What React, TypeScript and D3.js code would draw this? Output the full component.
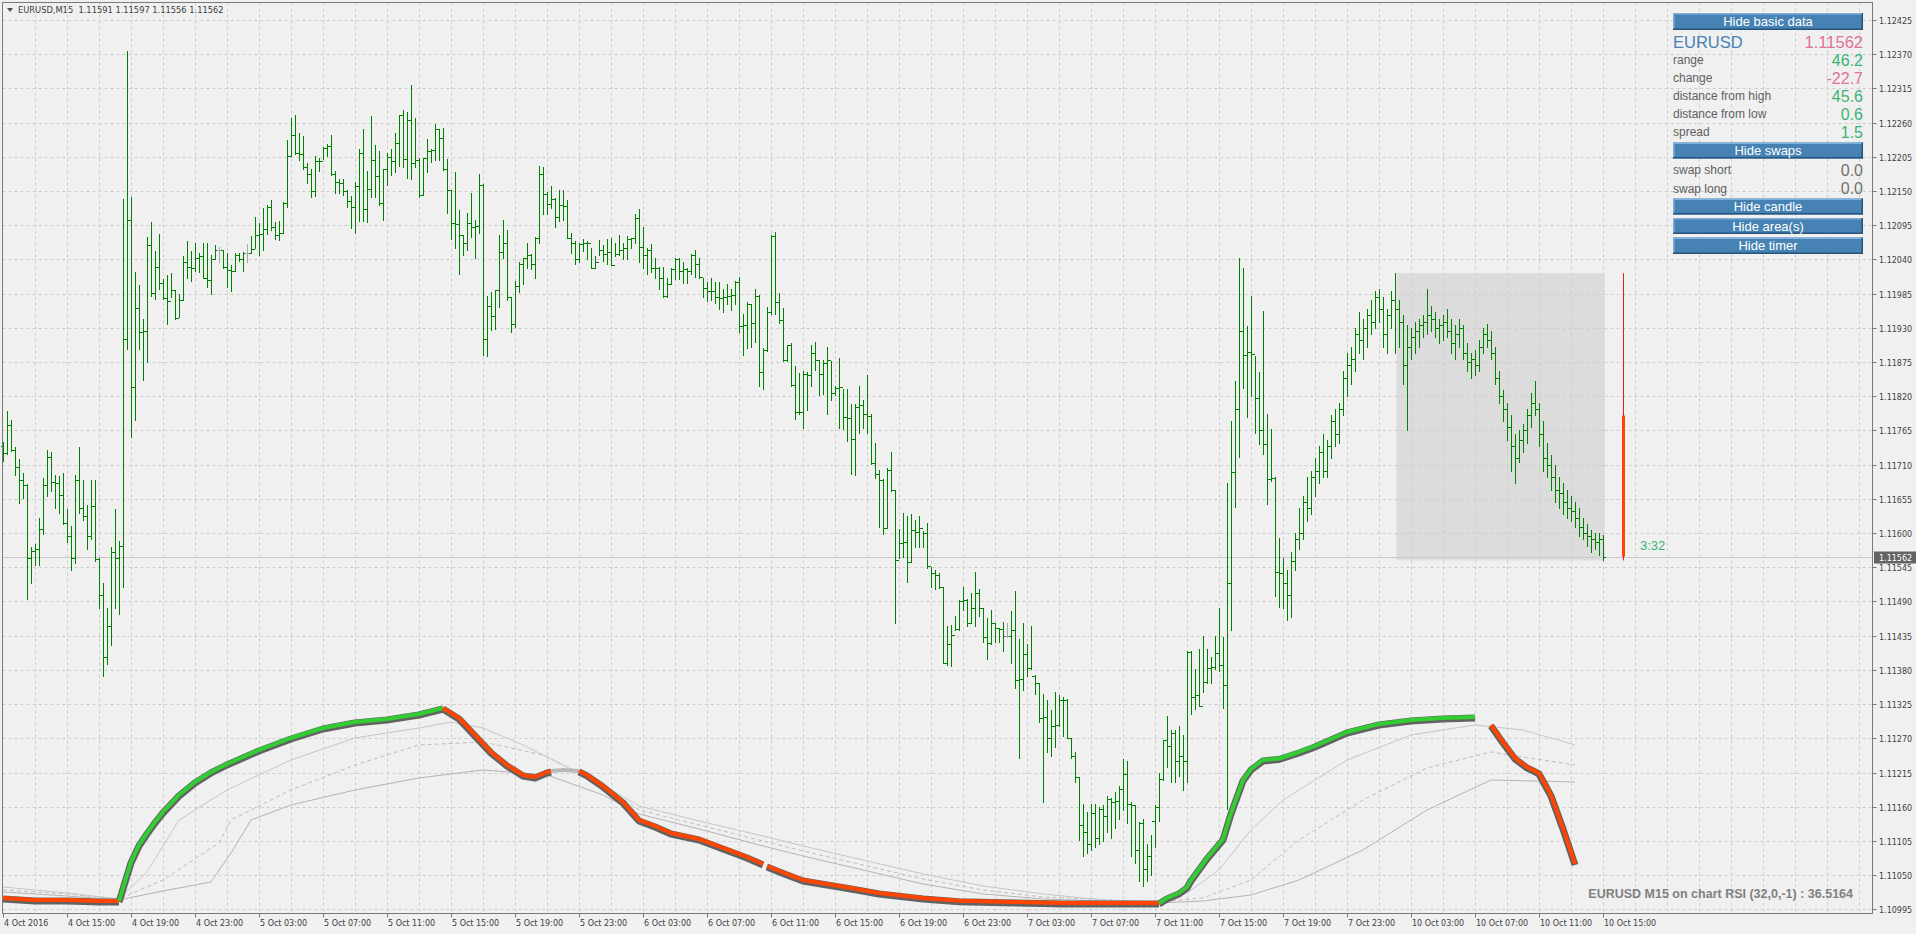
import React from "react";
import * as d3 from "d3";

const W = 1916, H = 934;
const PL = 2.5, PR = 1872.5, PT = 2.5, PB = 913.5;

const symbolTitle = "EURUSD,M15  1.11591 1.11597 1.11556 1.11562";

const priceTicks = [1.10995, 1.1105, 1.11105, 1.1116, 1.11215, 1.1127, 1.11325, 1.1138, 1.11435, 1.1149, 1.11545, 1.116, 1.11655, 1.1171, 1.11765, 1.1182, 1.11875, 1.1193, 1.11985, 1.1204, 1.12095, 1.1215, 1.12205, 1.1226, 1.12315, 1.1237, 1.12425];

const timeLabels = ["4 Oct 2016", "4 Oct 15:00", "4 Oct 19:00", "4 Oct 23:00", "5 Oct 03:00", "5 Oct 07:00", "5 Oct 11:00", "5 Oct 15:00", "5 Oct 19:00", "5 Oct 23:00", "6 Oct 03:00", "6 Oct 07:00", "6 Oct 11:00", "6 Oct 15:00", "6 Oct 19:00", "6 Oct 23:00", "7 Oct 03:00", "7 Oct 07:00", "7 Oct 11:00", "7 Oct 15:00", "7 Oct 19:00", "7 Oct 23:00", "10 Oct 03:00", "10 Oct 07:00", "10 Oct 11:00", "10 Oct 15:00"];
const timeTickIdx = [0, 16, 32, 48, 64, 80, 96, 112, 128, 144, 160, 176, 192, 208, 224, 240, 256, 272, 288, 304, 320, 336, 352, 368, 384, 400];

// M15 bars, index 0 = 4 Oct 11:00
const highs = [
1.11746,1.11796,1.11782,1.11738,1.11719,1.11696,1.11679,1.11578,1.11582,1.11625,
1.11688,1.11733,1.11731,1.11693,1.11692,1.11697,1.11639,1.11611,1.11694,1.11739,
1.11685,1.11645,1.11685,1.11685,1.1156,1.1152,1.1148,1.11577,1.11639,1.11588,
1.12138,1.12376,1.12141,1.1202,1.11999,1.11944,1.12076,1.12101,1.12053,1.12081,
1.12008,1.12015,1.12019,1.11991,1.11984,1.12046,1.1207,1.12053,1.12067,1.12051,
1.12066,1.12067,1.12048,1.12063,1.1206,1.12056,1.12051,1.12031,1.1205,1.12051,
1.12052,1.12065,1.12078,1.12109,1.12098,1.12123,1.12128,1.12135,1.12101,1.12102,
1.12132,1.12232,1.12268,1.12273,1.12244,1.12239,1.12195,1.12185,1.12206,1.12204,
1.12221,1.12225,1.12241,1.12182,1.12169,1.1217,1.12152,1.12142,1.12165,1.12217,
1.1225,1.12182,1.1227,1.12224,1.12215,1.12186,1.12211,1.12218,1.12243,1.12273,
1.1228,1.12278,1.1232,1.12268,1.12204,1.12204,1.12233,1.12218,1.12258,1.1225,
1.12252,1.12202,1.12152,1.1218,1.1212,1.1208,1.12114,1.12147,1.12104,1.12178,
1.12161,1.11981,1.11987,1.11991,1.1208,1.12103,1.12087,1.1198,1.12006,1.12036,
1.12043,1.12067,1.12049,1.12076,1.12191,1.12188,1.12149,1.12159,1.12139,1.12152,
1.12152,1.12135,1.12082,1.1207,1.12066,1.12073,1.12069,1.12058,1.12045,1.12071,
1.12063,1.12073,1.12075,1.12066,1.1208,1.12066,1.12077,1.12075,1.12113,1.12121,
1.12093,1.12058,1.12065,1.12043,1.12028,1.12028,1.12011,1.12026,1.12043,1.12043,
1.12036,1.12026,1.12049,1.12055,1.12043,1.12011,1.12004,1.12011,1.12004,1.12004,
1.11992,1.12001,1.11992,1.12005,1.12012,1.11952,1.11972,1.11969,1.11992,1.11983,
1.11898,1.11964,1.12079,1.12084,1.11986,1.11962,1.11903,1.11905,1.11868,1.11857,
1.11861,1.11859,1.11902,1.11907,1.11878,1.11879,1.119,1.11876,1.11837,1.11881,
1.11831,1.11831,1.11807,1.11807,1.11837,1.11814,1.11854,1.11791,1.11745,1.11702,
1.11687,1.11704,1.1173,1.11669,1.11606,1.11632,1.11627,1.1163,1.11621,1.11627,
1.11603,1.11617,1.11546,1.1154,1.11536,1.11514,1.11451,1.11453,1.11466,1.11492,
1.11514,1.11494,1.11504,1.11538,1.1151,1.11479,1.11464,1.11477,1.11455,1.11447,
1.11457,1.11455,1.11475,1.11507,1.11429,1.11455,1.11422,1.1145,1.11372,1.11359,
1.11342,1.11332,1.11315,1.11344,1.1134,1.11337,1.11333,1.1127,1.11248,1.11208,
1.11165,1.11152,1.11165,1.11165,1.1116,1.11163,1.11178,1.11174,1.11184,1.11193,
1.11236,1.11233,1.11167,1.11163,1.11135,1.1114,1.111,1.11115,1.11163,1.11215,
1.11268,1.11306,1.11283,1.11283,1.1129,1.11275,1.1141,1.1141,1.11381,1.11414,
1.11435,1.11414,1.114,1.11435,1.11479,1.11433,1.1168,1.1178,1.11844,1.12042,
1.12027,1.11933,1.11981,1.11885,1.11859,1.11957,1.11791,1.11767,1.11691,1.11592,
1.1156,1.1154,1.1157,1.116,1.1164,1.1166,1.1169,1.117,1.1172,1.1174,
1.1176,1.1175,1.1179,1.118,1.1181,1.1186,1.1189,1.119,1.1193,1.11955,
1.11945,1.1196,1.11975,1.1199,1.11993,1.1198,1.1196,1.1199,1.12018,1.11975,
1.1195,1.11935,1.1193,1.1194,1.11945,1.1195,1.11993,1.11965,1.11955,1.11945,
1.1195,1.1196,1.11945,1.11935,1.11945,1.11935,1.11905,1.1189,1.11895,1.1191,
1.1193,1.11936,1.11925,1.119,1.1186,1.1183,1.1181,1.1179,1.1176,1.11765,
1.11775,1.118,1.11825,1.11844,1.1181,1.1178,1.11745,1.11725,1.1171,1.1169,
1.1168,1.1167,1.1166,1.1165,1.1164,1.11625,1.11615,1.11605,1.116,1.116,
1.11597];

const lows = [
1.11716,1.11728,1.11732,1.11693,1.11649,1.11657,1.11494,1.1152,1.11549,1.11549,
1.11599,1.11659,1.11667,1.11641,1.11632,1.11615,1.11586,1.1154,1.11552,1.11632,
1.11621,1.11574,1.11591,1.11555,1.1148,1.1137,1.1139,1.1142,1.1148,1.1147,
1.11513,1.11896,1.11754,1.11782,1.11896,1.11847,1.11875,1.11981,1.11976,1.11993,
1.11977,1.11937,1.11979,1.11945,1.11947,1.11975,1.12011,1.12006,1.12022,1.1202,
1.1201,1.11995,1.11985,1.1204,1.12036,1.12027,1.11995,1.11989,1.12022,1.12038,
1.12022,1.12036,1.12051,1.12058,1.12048,1.12056,1.12081,1.12087,1.12073,1.12072,
1.12082,1.12125,1.12206,1.12209,1.122,1.12186,1.12163,1.12141,1.12142,1.12182,
1.12202,1.12206,1.12176,1.12147,1.12147,1.12143,1.12125,1.12091,1.12083,1.12102,
1.12102,1.12101,1.1214,1.1214,1.12127,1.12103,1.1216,1.12176,1.1218,1.12191,
1.12189,1.12171,1.12169,1.12189,1.12141,1.12143,1.1218,1.12196,1.122,1.122,
1.12184,1.12115,1.12073,1.12059,1.12017,1.12048,1.12056,1.12076,1.12043,1.12083,
1.11887,1.11885,1.11926,1.11929,1.11964,1.12043,1.11975,1.11923,1.11932,1.11987,
1.12001,1.12026,1.12025,1.1201,1.12067,1.12113,1.12113,1.12123,1.12093,1.12102,
1.12104,1.12074,1.12051,1.12032,1.12036,1.12053,1.1204,1.12026,1.12027,1.12048,
1.12038,1.12032,1.12031,1.12045,1.12047,1.1204,1.1204,1.12058,1.12066,1.12036,
1.12027,1.12016,1.1202,1.12011,1.11992,1.11979,1.11979,1.12,1.12009,1.12009,
1.12003,1.12003,1.12016,1.12012,1.12011,1.11979,1.11974,1.11975,1.1197,1.11961,
1.11955,1.11968,1.11959,1.11968,1.11924,1.11887,1.11898,1.119,1.11907,1.11837,
1.11831,1.11893,1.11953,1.11953,1.11938,1.11876,1.11876,1.11837,1.11783,1.11791,
1.11769,1.11798,1.11837,1.11863,1.11822,1.11824,1.11791,1.11814,1.11822,1.11769,
1.11767,1.11748,1.11695,1.11693,1.11761,1.11769,1.11761,1.11711,1.11689,1.1161,
1.11599,1.11608,1.11667,1.11455,1.1156,1.11562,1.11521,1.11554,1.11578,1.11578,
1.11578,1.11544,1.11514,1.1151,1.11512,1.11391,1.11388,1.11386,1.11444,1.11444,
1.11477,1.11451,1.11455,1.11451,1.11467,1.11425,1.11398,1.11422,1.11425,1.11425,
1.11411,1.11433,1.11391,1.11351,1.11239,1.11348,1.1137,1.11381,1.11342,1.11296,
1.11167,1.11248,1.11241,1.11256,1.11289,1.11274,1.1127,1.11239,1.112,1.11106,
1.1108,1.11085,1.1109,1.11095,1.111,1.11105,1.1112,1.1111,1.11125,1.1114,
1.11154,1.11134,1.1108,1.1107,1.1104,1.11032,1.1104,1.1105,1.11095,1.11137,
1.11203,1.11224,1.112,1.11199,1.11209,1.11187,1.112,1.11309,1.11317,1.11322,
1.11344,1.11359,1.11359,1.11381,1.11379,1.11318,1.11156,1.11444,1.11642,1.11723,
1.11834,1.11787,1.1182,1.11761,1.11743,1.11728,1.11647,1.11684,1.11499,1.11481,
1.1148,1.1146,1.11465,1.1154,1.11575,1.1159,1.1162,1.1163,1.1166,1.1168,
1.1169,1.1169,1.1172,1.1174,1.11745,1.1179,1.1182,1.1184,1.1186,1.1189,
1.1188,1.119,1.1192,1.1193,1.1194,1.119,1.1189,1.1193,1.1189,1.119,
1.1184,1.11765,1.1188,1.1189,1.119,1.11915,1.1192,1.11925,1.11915,1.11905,
1.1191,1.11915,1.1189,1.1188,1.119,1.1188,1.1186,1.1185,1.11855,1.1186,
1.1189,1.119,1.1188,1.1184,1.1181,1.1178,1.1175,1.117,1.1168,1.11715,
1.1173,1.11745,1.1177,1.1179,1.1174,1.117,1.1169,1.1167,1.1165,1.1164,
1.1163,1.11625,1.1162,1.1161,1.11595,1.1159,1.1158,1.1157,1.11575,1.11565,
1.11556];

const closes = [
1.11729,1.11774,1.11733,1.11707,1.11685,1.11678,1.1156,1.11571,1.11574,1.11606,
1.11678,1.11723,1.11682,1.11681,1.11661,1.11616,1.11595,1.1156,1.11685,1.11641,
1.11628,1.11595,1.11643,1.11559,1.115,1.114,1.1145,1.11569,1.1156,1.1158,
1.11912,1.12104,1.11835,1.11962,1.11923,1.11925,1.12063,1.11986,1.12028,1.12002,
1.11978,1.11973,1.11991,1.11946,1.11975,1.12036,1.12028,1.12027,1.12042,1.12045,
1.12011,1.12007,1.12041,1.12056,1.12056,1.12028,1.12023,1.12022,1.12047,1.12041,
1.12051,1.12051,1.12057,1.1208,1.12081,1.12089,1.12124,1.12092,1.1208,1.12083,
1.12131,1.12206,1.12241,1.12211,1.12209,1.12188,1.12178,1.1215,1.12199,1.12198,
1.1222,1.12222,1.12178,1.12164,1.12163,1.1215,1.12134,1.12124,1.12159,1.12211,
1.12121,1.12153,1.122,1.12174,1.12131,1.12185,1.12205,1.12199,1.12227,1.12272,
1.12202,1.12265,1.12195,1.122,1.12143,1.12203,1.12215,1.12216,1.1225,1.12235,
1.12186,1.12152,1.12099,1.12097,1.1208,1.12067,1.12099,1.12093,1.12094,1.1216,
1.11912,1.11966,1.11949,1.11991,1.12052,1.12067,1.1198,1.11936,1.11997,1.12032,
1.12042,1.12047,1.12032,1.12075,1.12178,1.12145,1.12129,1.12138,1.12109,1.12127,
1.12126,1.12075,1.12066,1.1204,1.12065,1.12066,1.12067,1.12027,1.12036,1.12056,
1.12049,1.12052,1.12031,1.12049,1.12056,1.12058,1.12073,1.12074,1.12106,1.1206,
1.12048,1.12055,1.12027,1.12026,1.12011,1.11981,1.12001,1.12024,1.1204,1.12021,
1.12024,1.12021,1.12048,1.12033,1.12012,1.11994,1.11989,1.1199,1.11979,1.11978,
1.1198,1.11981,1.11983,1.12004,1.11933,1.11934,1.11968,1.11938,1.11981,1.11859,
1.11894,1.11955,1.12077,1.11972,1.11942,1.11878,1.11903,1.11838,1.11794,1.11795,
1.11856,1.11854,1.1189,1.11879,1.11856,1.11873,1.11878,1.11826,1.11834,1.11835,
1.11787,1.11785,1.11752,1.11802,1.11806,1.11791,1.11789,1.11713,1.11695,1.11686,
1.11608,1.11702,1.11669,1.11556,1.11584,1.11586,1.11554,1.11605,1.11602,1.11608,
1.116,1.11547,1.11536,1.11532,1.11514,1.11391,1.11422,1.11436,1.11445,1.1149,
1.11492,1.11455,1.11479,1.11503,1.11479,1.11433,1.11423,1.11455,1.11447,1.11445,
1.11435,1.11435,1.11444,1.11364,1.11366,1.11405,1.11383,1.1137,1.11359,1.11303,
1.11305,1.1127,1.1129,1.11291,1.11332,1.11331,1.1127,1.11241,1.11208,1.1113,
1.1112,1.111,1.1115,1.1111,1.11156,1.11145,1.11172,1.11167,1.11169,1.11189,
1.11213,1.11165,1.11163,1.1109,1.11134,1.1106,1.1108,1.11137,1.11159,1.11205,
1.11267,1.11258,1.11278,1.11233,1.11241,1.11233,1.11408,1.11337,1.1134,1.11322,
1.11361,1.11383,1.11385,1.11407,1.11388,1.11355,1.11519,1.11698,1.118,1.11925,
1.11887,1.11891,1.11888,1.11817,1.11765,1.11743,1.11687,1.11689,1.11538,1.11536,
1.1152,1.115,1.11555,1.1159,1.116,1.1165,1.1164,1.1169,1.117,1.1173,
1.117,1.1174,1.1178,1.1176,1.118,1.1185,1.1187,1.1188,1.1192,1.1191,
1.1193,1.1195,1.1194,1.1198,1.1196,1.1192,1.1195,1.11975,1.1196,1.1194,
1.1187,1.119,1.11915,1.11925,1.11935,1.1194,1.1195,1.11945,1.1193,1.11935,
1.1194,1.11925,1.11905,1.1192,1.1193,1.1189,1.11875,1.1188,1.1187,1.119,
1.1192,1.1191,1.1189,1.1185,1.1182,1.118,1.1177,1.1174,1.1172,1.1175,
1.11765,1.1179,1.1181,1.118,1.1176,1.1172,1.1171,1.1169,1.1167,1.11665,
1.1165,1.1164,1.11635,1.11625,1.1161,1.116,1.11595,1.1159,1.11585,1.11591,
1.11562];

const opens = [
1.1174,1.11729,1.11774,1.11733,1.11707,1.11685,1.11678,1.1156,1.11571,1.11574,
1.11606,1.11678,1.11723,1.11682,1.11681,1.11661,1.11616,1.11595,1.1156,1.11685,
1.11641,1.11628,1.11595,1.11643,1.11559,1.115,1.114,1.1145,1.11569,1.1156,
1.1158,1.11912,1.12104,1.11835,1.11962,1.11923,1.11925,1.12063,1.11986,1.12028,
1.12002,1.11978,1.11973,1.11991,1.11946,1.11975,1.12036,1.12028,1.12027,1.12042,
1.12045,1.12011,1.12007,1.12041,1.12056,1.12056,1.12028,1.12023,1.12022,1.12047,
1.12041,1.12051,1.12051,1.12057,1.1208,1.12081,1.12089,1.12124,1.12092,1.1208,
1.12083,1.12131,1.12206,1.12241,1.12211,1.12209,1.12188,1.12178,1.1215,1.12199,
1.12198,1.1222,1.12222,1.12178,1.12164,1.12163,1.1215,1.12134,1.12124,1.12159,
1.12211,1.12121,1.12153,1.122,1.12174,1.12131,1.12185,1.12205,1.12199,1.12227,
1.12272,1.12202,1.12265,1.12195,1.122,1.12143,1.12203,1.12215,1.12216,1.1225,
1.12235,1.12186,1.12152,1.12099,1.12097,1.1208,1.12067,1.12099,1.12093,1.12094,
1.1216,1.11912,1.11966,1.11949,1.11991,1.12052,1.12067,1.1198,1.11936,1.11997,
1.12032,1.12042,1.12047,1.12032,1.12075,1.12178,1.12145,1.12129,1.12138,1.12109,
1.12127,1.12126,1.12075,1.12066,1.1204,1.12065,1.12066,1.12067,1.12027,1.12036,
1.12056,1.12049,1.12052,1.12031,1.12049,1.12056,1.12058,1.12073,1.12074,1.12106,
1.1206,1.12048,1.12055,1.12027,1.12026,1.12011,1.11981,1.12001,1.12024,1.1204,
1.12021,1.12024,1.12021,1.12048,1.12033,1.12012,1.11994,1.11989,1.1199,1.11979,
1.11978,1.1198,1.11981,1.11983,1.12004,1.11933,1.11934,1.11968,1.11938,1.11981,
1.11859,1.11894,1.11955,1.12077,1.11972,1.11942,1.11878,1.11903,1.11838,1.11794,
1.11795,1.11856,1.11854,1.1189,1.11879,1.11856,1.11873,1.11878,1.11826,1.11834,
1.11835,1.11787,1.11785,1.11752,1.11802,1.11806,1.11791,1.11789,1.11713,1.11695,
1.11686,1.11608,1.11702,1.11669,1.11556,1.11584,1.11586,1.11554,1.11605,1.11602,
1.11608,1.116,1.11547,1.11536,1.11532,1.11514,1.11391,1.11422,1.11436,1.11445,
1.1149,1.11492,1.11455,1.11479,1.11503,1.11479,1.11433,1.11423,1.11455,1.11447,
1.11445,1.11435,1.11435,1.11444,1.11364,1.11366,1.11405,1.11383,1.1137,1.11359,
1.11303,1.11305,1.1127,1.1129,1.11291,1.11332,1.11331,1.1127,1.11241,1.11208,
1.1113,1.1112,1.111,1.1115,1.1111,1.11156,1.11145,1.11172,1.11167,1.11169,
1.11189,1.11213,1.11165,1.11163,1.1109,1.11134,1.1106,1.1108,1.11137,1.11159,
1.11205,1.11267,1.11258,1.11278,1.11233,1.11241,1.11233,1.11408,1.11337,1.1134,
1.11322,1.11361,1.11383,1.11385,1.11407,1.11388,1.11355,1.11519,1.11698,1.118,
1.11925,1.11887,1.11891,1.11888,1.11817,1.11765,1.11743,1.11687,1.11689,1.11538,
1.11536,1.1152,1.115,1.11555,1.1159,1.116,1.1165,1.1164,1.1169,1.117,
1.1173,1.117,1.1174,1.1178,1.1176,1.118,1.1185,1.1187,1.1188,1.1192,
1.1191,1.1193,1.1195,1.1194,1.1198,1.1196,1.1192,1.1195,1.11975,1.1196,
1.1194,1.1187,1.119,1.11915,1.11925,1.11935,1.1194,1.1195,1.11945,1.1193,
1.11935,1.1194,1.11925,1.11905,1.1192,1.1193,1.1189,1.11875,1.1188,1.1187,
1.119,1.1192,1.1191,1.1189,1.1185,1.1182,1.118,1.1177,1.1174,1.1172,
1.1175,1.11765,1.1179,1.1181,1.118,1.1176,1.1172,1.1171,1.1169,1.1167,
1.11665,1.1165,1.1164,1.11635,1.11625,1.1161,1.116,1.11595,1.1159,1.11585,
1.11591];

// on-chart RSI(32) samples (bar index, value)
const rsiIdx = [0, 8, 16, 24, 29, 31, 32, 34, 36, 38, 40, 44, 48, 52, 56, 60, 64, 72, 80, 88, 96, 104, 110, 114, 118, 122, 126, 130, 133, 136, 137, 140, 144, 146, 150, 155, 159, 163, 167, 174, 180, 186, 190, 191, 196, 200, 212, 219, 230, 239, 250, 265, 289, 291, 294, 296, 297, 301, 305, 307, 310, 312, 315, 319, 324, 328, 336, 344, 352, 360, 368, 372, 375, 378, 381, 384, 387, 390, 393];
const rsiVal = [29.72, 29.32, 29.32, 29.12, 29.12, 34.32, 36.92, 40.32, 42.72, 44.92, 46.92, 50.32, 52.92, 54.92, 56.52, 57.92, 59.32, 61.72, 63.72, 64.92, 65.52, 66.52, 67.72, 65.72, 62.32, 58.92, 56.32, 54.32, 53.92, 54.92, 55.12, 55.32, 55.12, 54.32, 52.12, 48.92, 45.32, 44.12, 42.72, 41.52, 39.72, 37.92, 36.52, 36.12, 34.52, 33.32, 31.72, 30.72, 29.72, 29.18, 28.98, 28.72, 28.72, 29.72, 30.72, 31.92, 33.32, 37.72, 41.52, 46.72, 53.32, 55.52, 57.32, 57.62, 58.92, 60.12, 62.92, 64.52, 65.32, 65.72, 65.92, 64.32, 60.92, 57.72, 55.92, 54.72, 50.32, 43.72, 36.5164];
const rsiSegStart = [0, 29, 110, 137, 144, 191, 289, 370];
const rsiSegEnd = [29, 110, 137, 144, 190, 289, 370, 393];
const rsiSegDir = [-1, 1, -1, 0, -1, -1, 1, -1];

const bandUIdx = [0, 16, 29, 36, 44, 56, 72, 88, 104, 112, 120, 130, 140, 150, 159, 175, 190, 200, 215, 230, 245, 260, 275, 289, 296, 304, 312, 320, 336, 352, 368, 380, 393];
const bandUVal = [31.92, 30.72, 29.52, 34.92, 45.32, 51.32, 57.32, 61.72, 63.72, 64.92, 63.72, 60.32, 56.32, 52.32, 48.12, 44.92, 42.12, 40.12, 37.32, 34.52, 32.12, 30.52, 29.32, 28.92, 30.72, 35.32, 43.32, 49.32, 57.32, 62.32, 64.32, 63.32, 60.32];
const bandMIdx = [0, 16, 29, 40, 54, 57, 72, 88, 104, 120, 135, 150, 159, 175, 190, 200, 215, 230, 245, 260, 289, 300, 312, 324, 340, 356, 372, 393];
const bandMVal = [31.32, 30.52, 29.52, 33.32, 40.72, 45.32, 51.32, 56.32, 60.32, 60.92, 58.32, 52.32, 47.32, 44.12, 41.12, 39.12, 36.32, 33.52, 31.32, 29.92, 28.92, 29.72, 33.32, 41.32, 49.32, 55.72, 58.92, 56.32];
const bandLIdx = [0, 16, 29, 40, 52, 57, 62, 72, 88, 104, 120, 136, 150, 159, 175, 190, 200, 215, 230, 245, 260, 289, 300, 312, 324, 340, 356, 372, 393];
const bandLVal = [30.92, 30.12, 29.32, 31.12, 32.92, 38.72, 45.32, 48.32, 51.32, 53.72, 55.32, 54.32, 50.32, 46.52, 43.32, 40.12, 38.12, 35.32, 32.52, 30.52, 29.52, 28.72, 29.12, 30.32, 33.32, 39.32, 47.32, 53.32, 52.92];

const rsiLabel = "EURUSD M15 on chart RSI (32,0,-1) : 36.5164";

// info panel
const panelSymbol = "EURUSD";
const panelPrice = "1.11562";
const basicLabels = ["range", "change", "distance from high", "distance from low", "spread"];
const basicValues = ["46.2", "-22.7", "45.6", "0.6", "1.5"];
const basicPositive = [true, false, true, true, true];
const swapLabels = ["swap short", "swap long"];
const swapValues = ["0.0", "0.0"];
const timerText = "3:32";

const lastPrice = 1.11562;
const dayHigh = 1.12018;
const dayLow = 1.11556;
const dayOpen = 1.11789;
const areaStartIdx = 348.4;
const areaEndIdx = 400.4;
const dayCandleIdx = 405;

const GREEN = "#3cb371";
const PINK = "#e0709a";
const BTN = "#4682b4";

export default function App() {
  const x = d3.scaleLinear().domain([0, 400]).range([3, 1603]);
  const y = d3.scaleLinear().domain([1.10995, 1.12425]).range([909.3, 20.1]);
  const rsiY = d3.scaleLinear().domain([0, 100]).range([864 + 36.5164 * 5, 864 - 63.4836 * 5]);

  const vGrid: number[] = [];
  for (let gx = 35; gx < PR; gx += 32) vGrid.push(gx + 0.5);

  const bars = highs.map((h, i) => {
    const px = Math.round(x(i));
    const yh = Math.round(y(h));
    const yl = Math.round(y(lows[i]));
    const yo = Math.round(y(opens[i]));
    const yc = Math.round(y(closes[i]));
    const col = opens[i] === closes[i] ? "#a8a8a8" : "#008000";
    return (
      <g key={i} fill={col}>
        <rect x={px} y={yh} width={1} height={Math.max(1, yl - yh + 1)} />
        <rect x={px - 2} y={yo} width={2} height={1} />
        <rect x={px + 1} y={yc} width={2} height={1} />
      </g>
    );
  });

  const lineGen = d3.line<[number, number]>().x(d => d[0]).y(d => d[1]);
  const rsiPts: [number, number][] = rsiIdx.map((ix, k) => [x(ix), rsiY(rsiVal[k])]);
  const segPts = (s: number, e: number) => rsiPts.filter((_, k) => rsiIdx[k] >= s && rsiIdx[k] <= e);

  const band = (idx: number[], val: number[]) => lineGen(idx.map((ix, k) => [x(ix), rsiY(val[k])] as [number, number])) || "";

  const yLast = Math.round(y(lastPrice)) + 0.5;

  const btn = (label: string, y0: number, h: number) => (
    <g>
      <rect x={1673} y={y0} width={190} height={h} fill={BTN} />
      <rect x={1673} y={y0} width={190} height={1.5} fill="#7fb0dc" />
      <rect x={1673} y={y0} width={1.5} height={h} fill="#7fb0dc" />
      <rect x={1673} y={y0 + h - 1.5} width={190} height={1.5} fill="#27527a" />
      <rect x={1861.5} y={y0} width={1.5} height={h} fill="#27527a" />
      <text x={1768} y={y0 + h / 2 + 4.5} textAnchor="middle" fontSize={13} fill="#ffffff" fontFamily="Liberation Sans, Arial, sans-serif">{label}</text>
    </g>
  );

  return (
    <svg width={W} height={H} style={{ position: "fixed", left: 0, top: 0, display: "block" }} xmlns="http://www.w3.org/2000/svg">
      <rect x={0} y={0} width={W} height={H} fill="#f0f0f0" />
      {/* day area */}
      <rect x={x(areaStartIdx)} y={y(dayHigh)} width={x(areaEndIdx) - x(areaStartIdx)} height={y(dayLow) - y(dayHigh)} fill="#dcdcdc" />
      {/* grid */}
      <g stroke="#cdcdcd" strokeWidth={1} strokeDasharray="3,3">
        {vGrid.map((gx, i) => <line key={"v" + i} x1={gx} x2={gx} y1={PT} y2={PB} />)}
        {priceTicks.map((p, i) => {
          const gy = Math.round(y(p)) + 0.5;
          return <line key={"h" + i} x1={PL} x2={PR} y1={gy} y2={gy} />;
        })}
      </g>
      {/* current price line */}
      <line x1={PL} x2={PR} y1={yLast} y2={yLast} stroke="#c8c8c8" strokeWidth={1} />
      {/* bars */}
      {bars}
      {/* bands */}
      <g fill="none" strokeWidth={1}>
        <path d={band(bandLIdx, bandLVal)} stroke="#b4b4b4" />
        <path d={band(bandMIdx, bandMVal)} stroke="#bdbdbd" strokeDasharray="4,3" />
        <path d={band(bandUIdx, bandUVal)} stroke="#c6c6c6" />
      </g>
      {/* RSI thick line */}
      <g fill="none" strokeLinejoin="round">
        {rsiSegStart.map((s, k) => rsiSegDir[k] !== 0 ? (
          <path key={"o" + k} d={lineGen(segPts(s, rsiSegEnd[k])) || ""} stroke="#626262" strokeWidth={7} transform="translate(0,1)" />
        ) : null)}
        {rsiSegStart.map((s, k) => (
          <path key={"c" + k} d={lineGen(segPts(s, rsiSegEnd[k])) || ""} stroke={rsiSegDir[k] > 0 ? "#32cd32" : rsiSegDir[k] < 0 ? "#ff4500" : "#b8b8b8"} strokeWidth={4} />
        ))}
      </g>
      {/* daily candle */}
      <line x1={Math.round(x(dayCandleIdx)) + 0.5} x2={Math.round(x(dayCandleIdx)) + 0.5} y1={y(dayHigh)} y2={y(dayLow)} stroke="#e02020" strokeWidth={1} />
      <rect x={Math.round(x(dayCandleIdx)) - 1} y={y(dayOpen)} width={3} height={y(lastPrice) - y(dayOpen)} fill="#ff4500" />
      <text x={1640} y={550} fontSize={13} fill={GREEN} fontFamily="Liberation Sans, Arial, sans-serif">{timerText}</text>
      {/* border */}
      <rect x={PL} y={PT} width={PR - PL} height={PB - PT} fill="none" stroke="#7a7a7a" strokeWidth={1} />
      {/* price axis */}
      <g fontFamily="DejaVu Sans, sans-serif" fontSize={8} fill="#404040">
        {priceTicks.map((p, i) => {
          const gy = Math.round(y(p)) + 0.5;
          return (
            <g key={"pt" + i}>
              <line x1={PR} x2={PR + 4} y1={gy} y2={gy} stroke="#7a7a7a" />
              <text x={1879} y={gy + 3}>{d3.format(".5f")(p)}</text>
            </g>
          );
        })}
      </g>
      <rect x={1874} y={yLast - 6} width={42} height={12} fill="#646464" />
      <text x={1879} y={yLast + 3} fontFamily="DejaVu Sans, sans-serif" fontSize={8} fill="#ffffff">{d3.format(".5f")(lastPrice)}</text>
      {/* time axis */}
      <g fontFamily="DejaVu Sans, sans-serif" fontSize={8} fill="#404040">
        {timeTickIdx.map((ix, i) => {
          const tx = Math.round(x(ix)) + 0.5;
          return (
            <g key={"tt" + i}>
              <line x1={tx} x2={tx} y1={PB} y2={PB + 4} stroke="#7a7a7a" />
              <text x={tx + 0.5} y={926}>{timeLabels[i]}</text>
            </g>
          );
        })}
      </g>
      {/* title */}
      <path d="M7,8 L13,8 L10,12 Z" fill="#505050" />
      <text x={18} y={13} fontFamily="DejaVu Sans, sans-serif" fontSize={8.3} fill="#404040" style={{ whiteSpace: "pre" }}>{symbolTitle}</text>
      {/* RSI label */}
      <text x={1853} y={898} textAnchor="end" fontFamily="Liberation Sans, Arial, sans-serif" fontWeight="bold" fontSize={12.5} fill="#808080">{rsiLabel}</text>
      {/* info panel */}
      {btn("Hide basic data", 13, 17)}
      <text x={1673} y={48} fontSize={16.5} fill={BTN} fontFamily="Liberation Sans, Arial, sans-serif">{panelSymbol}</text>
      <text x={1863} y={48} textAnchor="end" fontSize={16.5} fill={PINK} fontFamily="Liberation Sans, Arial, sans-serif">{panelPrice}</text>
      {basicLabels.map((l, i) => (
        <g key={"b" + i} fontFamily="Liberation Sans, Arial, sans-serif">
          <text x={1673} y={64 + i * 18} fontSize={12} fill="#606060">{l}</text>
          <text x={1863} y={65.5 + i * 18} textAnchor="end" fontSize={16} fill={basicPositive[i] ? GREEN : PINK}>{basicValues[i]}</text>
        </g>
      ))}
      {btn("Hide swaps", 142.5, 16)}
      {swapLabels.map((l, i) => (
        <g key={"s" + i} fontFamily="Liberation Sans, Arial, sans-serif">
          <text x={1673} y={174 + i * 18.7} fontSize={12} fill="#606060">{l}</text>
          <text x={1863} y={175.5 + i * 18.7} textAnchor="end" fontSize={16} fill="#707070">{swapValues[i]}</text>
        </g>
      ))}
      {btn("Hide candle", 198.5, 16)}
      {btn("Hide area(s)", 218, 16)}
      {btn("Hide timer", 237.5, 16.5)}
    </svg>
  );
}
